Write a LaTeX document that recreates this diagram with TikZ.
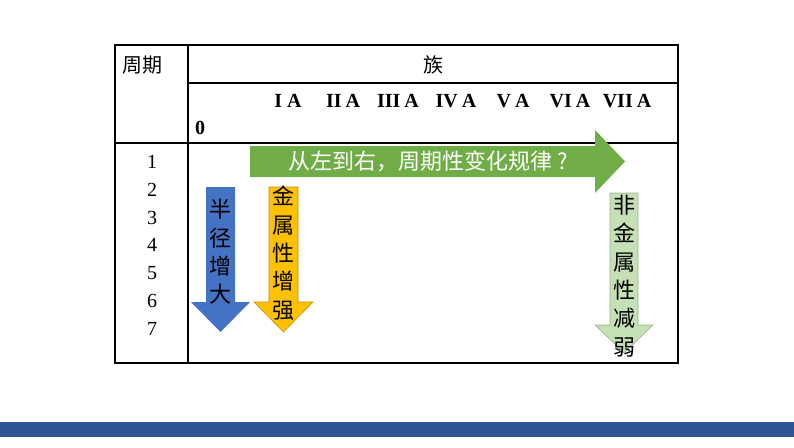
\documentclass[tikz,border=0pt]{standalone}
\usepackage{fontspec}
\setmainfont{Liberation Serif}
\newfontfamily\cjk{Noto Sans CJK SC}
\usetikzlibrary{positioning}

\definecolor{barblue}{HTML}{2F5597}
\definecolor{radblue}{HTML}{4472C4}
\definecolor{metalgold}{HTML}{FFC000}
\definecolor{metaledge}{HTML}{C09000}
\definecolor{rowgreen}{HTML}{70AD47}
\definecolor{nonmetal}{HTML}{C5E0B4}
\definecolor{nonmetaledge}{HTML}{9DB58E}

\tikzset{
  gridline/.style={line width=1.6pt},
  headtext/.style={font=\cjk\fontsize{20}{20}\selectfont, inner sep=0pt},
  grouplabel/.style={font=\bfseries\fontsize{20}{20}\selectfont, inner sep=0pt},
  rownum/.style={font=\fontsize{20}{20}\selectfont, inner sep=0pt},
  vtext/.style={font=\cjk\fontsize{22}{28.3}\selectfont, align=center, inner sep=0pt, anchor=north},
}

\begin{document}
\begin{tikzpicture}[x=1pt, y=-1pt]
   \useasboundingbox (0,0) rectangle (794,447);

   % table frame
   \draw[gridline] (115,45) rectangle (678,363);
   \draw[gridline] (188,45) -- (188,363);
   \draw[line width=1.2pt] (188,83) -- (678,83);
   \draw[gridline] (115,143) -- (678,143);

   % header
   \node[headtext] (period) at (142,65) {周期};
   \node[headtext] (family) at (433,65) {族};
   \node[grouplabel] (g1) at (288,101) {I A};
   \node[grouplabel] (g2) at (343,101) {II\kern-1pt\ A};
   \node[grouplabel] (g3) at (398,101) {III\kern-1pt\ A};
   \node[grouplabel] (g4) at (456,101) {IV\kern-1pt\ A};
   \node[grouplabel] (g5) at (513,101) {V\kern-1pt\ A};
   \node[grouplabel] (g6) at (570,101) {VI\kern-1pt\ A};
   \node[grouplabel] (g7) at (627,101) {VII\kern-1pt\ A};
   \node[grouplabel] (g0) at (200,128) {0};

   % periods
   \foreach \n [count=\i from 0] in {1,...,7}
      \node[rownum] (p\n) at (152,162+27.8*\i) {\n};

   % left to right arrow
   \fill[rowgreen] (250,146) -- (595,146) -- (595,130) -- (625,161.5)
      -- (595,193) -- (595,177) -- (250,177) -- cycle;
   \node[font=\cjk\fontsize{22}{22}\selectfont, text=white, inner sep=0pt]
      (trend) at (428,161) {从左到右，周期性变化规律 ?};

   % radius arrow
   \fill[radblue] (206,187) -- (235,187) -- (235,302) -- (250,302) -- (220.5,332)
      -- (191,302) -- (206,302) -- cycle;
   \node[vtext] (radius) at (220.5,199) {半\\径\\增\\大};

   % metal arrow
   \filldraw[fill=metalgold, draw=metaledge, line width=0.6pt]
      (269,187) -- (298,187) -- (298,302) -- (313,302) -- (283.5,332)
      -- (254,302) -- (269,302) -- cycle;
   \node[vtext] (metal) at (283.5,186) {金\\属\\性\\增\\强};

   % non-metal arrow
   \filldraw[fill=nonmetal, draw=nonmetaledge, line width=0.6pt]
      (610,193) -- (638,193) -- (638,325) -- (653,325) -- (624,353)
      -- (595,325) -- (610,325) -- cycle;
   \node[vtext] (nonmetal) at (624,195) {非\\金\\属\\性\\减\\弱};

   % bottom bar
   \fill[barblue] (0,422) rectangle (794,437);
\end{tikzpicture}
\end{document}
